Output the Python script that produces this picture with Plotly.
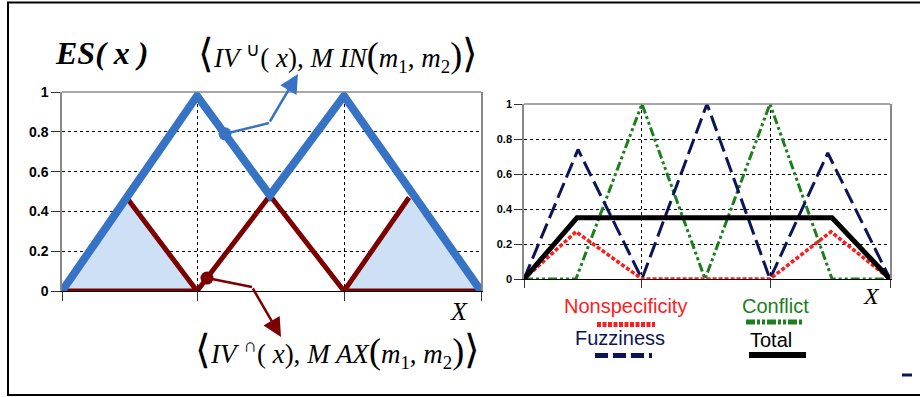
import plotly.graph_objects as go

W, H = 920, 397

# ---------------- data ----------------
x_ticks = [0, 0.967, 2.02, 3]
y_ticks = [0, 0.2, 0.4, 0.6, 0.8, 1]
y_tick_labels = ["0", "0.2", "0.4", "0.6", "0.8", "1"]

# left chart: upper (union) envelope and lower (intersection) envelope
upper_x = [0, 0.967, 1.489, 2.019, 3]
upper_y = [0, 0.98, 0.48, 0.98, 0]
lower_x = [0, 0.967, None, 0.473, 0.967, 1.489, 2.019, 2.485, None, 2.019, 3]
lower_y = [0, 0, None, 0.46, 0, 0.48, 0, 0.47, None, 0, 0]
fill_left_x = [0, 0.473, 0.967, 0]
fill_left_y = [0, 0.46, 0, 0]
fill_right_x = [2.019, 2.485, 3, 2.019]
fill_right_y = [0, 0.47, 0, 0]
upper_point_x, upper_point_y = [1.167], [0.79]
lower_point_x, lower_point_y = [1.038], [0.065]

# right chart
fuzz_x = [0, 0.443, 0.967, 1.5, 2.016, 2.49, 3]
fuzz_y = [0, 0.74, 0, 1.0, 0, 0.72, 0]
conf_x = [0, 0.426, 0.967, 1.484, 2.016, 2.525, 3]
conf_y = [0, 0, 1.0, 0, 1.0, 0, 0]
nons_x = [0, 0.426, 0.967, 2.016, 2.516, 3]
nons_y = [0, 0.27, 0, 0, 0.27, 0]
total_x = [0, 0.434, 2.525, 3]
total_y = [0, 0.35, 0.35, 0]

# ---------------- style ----------------
BLUE = "#3673c4"
MAROON = "#7d0000"
FILL = "#cde0f5"
NAVY = "#0b1457"
GREEN = "#19801a"
RED = "#ff1c1c"
SERIF = "Liberation Serif, Times New Roman, serif"
SANS = "Liberation Sans, Arial, sans-serif"

# pixel geometry of the two plot areas
L_X0, L_X1, L_Y0, L_Y1 = 62, 481, 291, 92
R_X0, R_X1, R_Y0, R_Y1 = 524, 890, 279, 104


def px(x):
    return x / W


def py(y):
    return 1 - y / H


def lpx(v):
    return L_X0 + v / 3 * (L_X1 - L_X0)


def lpy(v):
    return L_Y0 - v * (L_Y0 - L_Y1)


fig = go.Figure()

# left chart
for fx, fy in [(fill_left_x, fill_left_y), (fill_right_x, fill_right_y)]:
    fig.add_trace(go.Scatter(x=fx, y=fy, fill="toself", fillcolor=FILL, mode="lines",
                             line=dict(width=0, color=FILL), xaxis="x", yaxis="y",
                             hoverinfo="skip", cliponaxis=False))
fig.add_trace(go.Scatter(x=lower_x, y=lower_y, mode="lines", line=dict(color=MAROON, width=5),
                         xaxis="x", yaxis="y", cliponaxis=False))
fig.add_trace(go.Scatter(x=upper_x, y=upper_y, mode="lines", line=dict(color=BLUE, width=8),
                         xaxis="x", yaxis="y", cliponaxis=False))
fig.add_trace(go.Scatter(x=upper_point_x, y=upper_point_y, mode="markers",
                         marker=dict(color=BLUE, size=13), xaxis="x", yaxis="y", cliponaxis=False))
fig.add_trace(go.Scatter(x=lower_point_x, y=lower_point_y, mode="markers",
                         marker=dict(color=MAROON, size=13), xaxis="x", yaxis="y", cliponaxis=False))

# right chart
fig.add_trace(go.Scatter(x=conf_x, y=conf_y, mode="lines",
                         line=dict(color=GREEN, width=3, dash="9px,3px,3px,3px,3px,3px"),
                         xaxis="x2", yaxis="y2", cliponaxis=False))
fig.add_trace(go.Scatter(x=fuzz_x, y=fuzz_y, mode="lines",
                         line=dict(color=NAVY, width=3, dash="16px,6px"),
                         xaxis="x2", yaxis="y2", cliponaxis=False))
fig.add_trace(go.Scatter(x=nons_x, y=nons_y, mode="lines",
                         line=dict(color=RED, width=3.5, dash="4px,2px"),
                         xaxis="x2", yaxis="y2", cliponaxis=False))
fig.add_trace(go.Scatter(x=total_x, y=total_y, mode="lines",
                         line=dict(color="black", width=5),
                         xaxis="x2", yaxis="y2", cliponaxis=False))

common_x = dict(range=[0, 3], tickvals=x_ticks, showticklabels=False, ticks="outside",
                tickcolor="#333", showline=True, linecolor="black", linewidth=1,
                showgrid=True, gridcolor="black", griddash="dot", gridwidth=1,
                zeroline=False, fixedrange=True, automargin=False)
common_y = dict(range=[0, 1], tickvals=y_ticks, ticktext=y_tick_labels, ticks="outside",
                tickcolor="#333", showline=True, linecolor="#888", linewidth=1.5, mirror=True,
                showgrid=True, gridcolor="black", griddash="dot", gridwidth=1,
                zeroline=False, fixedrange=True, automargin=False)

fig.update_layout(
    width=W, height=H, margin=dict(l=0, r=0, t=0, b=0, pad=0, autoexpand=False),
    paper_bgcolor="white", plot_bgcolor="white", showlegend=False,
    xaxis=dict(domain=[px(L_X0), px(L_X1)], anchor="y", ticklen=9, **common_x),
    yaxis=dict(domain=[py(L_Y0), py(L_Y1)], anchor="x", ticklen=9,
               tickfont=dict(family=SANS, size=14, color="black", weight="bold"), **common_y),
    xaxis2=dict(domain=[px(R_X0), px(R_X1)], anchor="y2", ticklen=8, **common_x),
    yaxis2=dict(domain=[py(R_Y0), py(R_Y1)], anchor="x2", ticklen=8,
                tickfont=dict(family=SANS, size=11, color="black", weight="bold"), **common_y),
)

shapes = []
# outer frame
shapes.append(dict(type="rect", xref="paper", yref="paper", x0=px(8), x1=1.05,
                   y0=py(395), y1=py(2.5), line=dict(color="black", width=2)))
# top frame lines of both plots
for xr, yr in [("x domain", "y domain"), ("x2 domain", "y2 domain")]:
    shapes.append(dict(type="line", xref=xr, yref=yr, x0=0, x1=1, y0=1, y1=1,
                       line=dict(color="#888", width=1.5)))
# bent arrow leads
bx, by = lpx(upper_point_x[0]), lpy(upper_point_y[0])
rx, ry = lpx(lower_point_x[0]), lpy(lower_point_y[0])
shapes.append(dict(type="line", xref="paper", yref="paper", x0=px(bx), y0=py(by),
                   x1=px(269), y1=py(123), line=dict(color=BLUE, width=2.5)))
shapes.append(dict(type="line", xref="paper", yref="paper", x0=px(rx), y0=py(ry),
                   x1=px(252), y1=py(287), line=dict(color=MAROON, width=2.5)))
# legend samples
shapes.append(dict(type="line", xref="paper", yref="paper", x0=px(597), x1=px(655),
                   y0=py(324.5), y1=py(324.5), line=dict(color=RED, width=5, dash="4px,1.5px")))
shapes.append(dict(type="line", xref="paper", yref="paper", x0=px(746), x1=px(802),
                   y0=py(322), y1=py(322),
                   line=dict(color=GREEN, width=5, dash="9px,2px,3px,2px,3px,2px")))
shapes.append(dict(type="line", xref="paper", yref="paper", x0=px(595), x1=px(652),
                   y0=py(355.5), y1=py(355.5), line=dict(color=NAVY, width=5, dash="13px,5px")))
shapes.append(dict(type="line", xref="paper", yref="paper", x0=px(749), x1=px(806),
                   y0=py(355), y1=py(355), line=dict(color="black", width=6)))
shapes.append(dict(type="line", xref="paper", yref="paper", x0=px(902), x1=px(912),
                   y0=py(375), y1=py(375), line=dict(color=NAVY, width=3)))
fig.update_layout(shapes=shapes)

brk = "<span style='font-size:40px'>"
par = "<span style='font-size:36px'>"
ann = []
ann.append(dict(text="<b><i>ES( x )</i></b>", x=px(101), y=py(53),
                font=dict(family=SERIF, size=32, color="black")))
ann.append(dict(text=brk + "⟨</span><i>IV</i> <sup>∪</sup>( <i>x</i>), <i>M IN</i>" + par + "(</span><i>m</i><sub>1</sub>, <i>m</i><sub>2</sub>" + par + ")</span>" + brk + "⟩</span>",
                x=px(338), y=py(54), font=dict(family=SERIF, size=27, color="black")))
ann.append(dict(text=brk + "⟨</span><i>IV</i> <sup>∩</sup>( <i>x</i>), <i>M AX</i>" + par + "(</span><i>m</i><sub>1</sub>, <i>m</i><sub>2</sub>" + par + ")</span>" + brk + "⟩</span>",
                x=px(337), y=py(350), font=dict(family=SERIF, size=27, color="black")))
ann.append(dict(text="<i>X</i>", x=px(459), y=py(311), font=dict(family=SERIF, size=26, color="black")))
ann.append(dict(text="<i>X</i>", x=px(871), y=py(296), font=dict(family=SERIF, size=24, color="black")))
ann.append(dict(text="Nonspecificity", x=px(625), y=py(306), font=dict(family=SANS, size=20, color=RED)))
ann.append(dict(text="Conflict", x=px(775), y=py(306), font=dict(family=SANS, size=20, color=GREEN)))
ann.append(dict(text="Fuzziness", x=px(619.5), y=py(338), font=dict(family=SANS, size=20, color=NAVY)))
ann.append(dict(text="Total", x=px(771), y=py(340), font=dict(family=SANS, size=20, color="black")))
for a in ann:
    a.update(xref="paper", yref="paper", showarrow=False, xanchor="center", yanchor="middle")
# arrow heads
ann.append(dict(text="", x=px(298), y=py(74), xref="paper", yref="paper", showarrow=True,
                ax=269 - 298, ay=123 - 74, arrowhead=2, arrowsize=1.5, arrowwidth=2.5,
                arrowcolor=BLUE, standoff=0))
ann.append(dict(text="", x=px(281), y=py(337), xref="paper", yref="paper", showarrow=True,
                ax=252 - 281, ay=287 - 337, arrowhead=2, arrowsize=1.5, arrowwidth=2.5,
                arrowcolor=MAROON, standoff=0))
fig.update_layout(annotations=ann)

fig.write_html(
    "out.html",
    config={"displayModeBar": False},
    post_script="document.body.style.margin='0';document.body.style.overflow='hidden';",
)
